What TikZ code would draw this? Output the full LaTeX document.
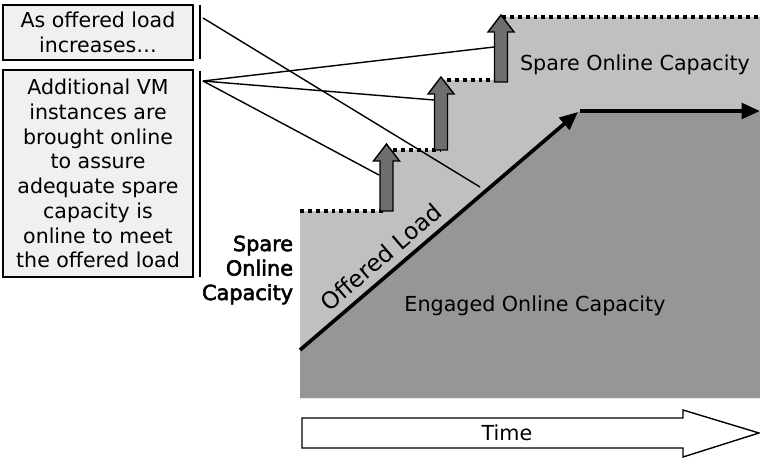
\documentclass[tikz,border=0pt]{standalone}
\usepackage{fontspec}
\setmainfont{DejaVu Sans}
\newfontfamily\lblfont{DejaVu Sans}[FakeBold=2.5]
\usetikzlibrary{arrows.meta}
\definecolor{sparegray}{RGB}{192,192,192}
\definecolor{engagedgray}{RGB}{150,150,150}
\definecolor{arrowgray}{RGB}{110,110,110}
\definecolor{notegray}{RGB}{240,240,240}
\tikzset{
  notebox/.style={draw,fill=notegray,line width=1pt,align=center,inner sep=0pt,
        minimum width=4.75cm,font=\fontsize{14.6}{17.6}\selectfont},
  lbl/.style={font=\fontsize{14.7}{17.4}\selectfont},
  boldlbl/.style={font=\lblfont\fontsize{14.8}{17.4}\selectfont},
  levelline/.style={line width=2.8pt,dash pattern=on 2.8pt off 2.8pt},
  loadline/.style={line width=2.6pt,-{Triangle[length=13pt,width=11pt]}},
  callout/.style={line width=1pt},
  bracketbar/.style={line width=1.3pt},
  liftarrow/.style={draw,fill=arrowgray,line width=1pt,line join=miter},
}

\begin{document}
\begin{tikzpicture}[x=0.025cm,y=-0.025cm]
  \useasboundingbox (0,0) rectangle (760,458);
  % capacity areas
  \fill[sparegray] (300,211) -- (387,211) -- (387,150) -- (441,150) -- (441,80)
        -- (501,80) -- (501,17) -- (760,17) -- (760,398) -- (300,398) -- cycle;
  \fill[engagedgray] (300,350) -- (578,112) -- (760,112) -- (760,398) -- (300,398) -- cycle;
  % spare capacity levels
  \draw[levelline] (300,211) -- (386,211);
  \draw[levelline] (393,150) -- (441,150);
  \draw[levelline] (447,80) -- (495,80);
  \draw[levelline] (502,17) -- (760,17);

  % call-out bars and targets
  \coordinate (growbar top) at (200,5);
  \coordinate (growbar bot) at (200,59);
  \coordinate (addbar top) at (200,71);
  \coordinate (addbar bot) at (200,277);
  \coordinate (growfoot) at (203,18);
  \coordinate (addfoot) at (203,81);
  \coordinate (loadhit) at (480,187);
  \coordinate (lifthit a) at (379,175);
  \coordinate (lifthit b) at (434,100);
  \coordinate (lifthit c) at (494,47);
  \draw[bracketbar] (growbar top) -- (growbar bot);
  \draw[bracketbar] (addbar top) -- (addbar bot);
  \draw[callout] (growfoot) -- (loadhit);
  \foreach \t in {a,b,c}
    \draw[callout] (addfoot) -- (lifthit \t);

  % offered load
  \coordinate (olstart) at (300,350);
  \coordinate (olend) at (578,112);
  \coordinate (flatstart) at (580,111);
  \coordinate (flatend) at (760,111);
  \draw[loadline] (olstart) -- (olend);
  \draw[loadline] (flatstart) -- (flatend);

  % VM instance arrows
  \foreach \cx/\yb/\yt in {386.5/211/144, 441/150/77, 501/82/15}
    \draw[liftarrow] (\cx-6.5,\yb) -- (\cx-6.5,\yt+17) -- (\cx-13,\yt+17) -- (\cx,\yt)
          -- (\cx+13,\yt+17) -- (\cx+6.5,\yt+17) -- (\cx+6.5,\yb) -- cycle;

  % labels
  \node[lbl] (toplbl) at (635,65) {Spare Online Capacity};
  \node[lbl] (engagedlbl) at (535,306) {Engaged Online Capacity};
  \node[lbl,font=\fontsize{16.5}{18}\selectfont,rotate=40.7] (offeredlbl) at (381,257) {Offered Load};
  \node[boldlbl,align=right,anchor=east] (sparelbl) at (298,270) {Spare\\Online\\Capacity};

  % notes
  \node[notebox,minimum height=1.375cm] (grownote) at (98,32.5)
        {As offered load\\increases\ldots};
  \node[notebox,minimum height=5.175cm] (addnote) at (98,173.5)
        {Additional VM\\instances are\\brought online\\to assure\\adequate spare\\capacity is\\online to meet\\the offered load};

  % time axis
  \draw[line width=1pt,fill=white] (302,418) -- (683,418) -- (683,410) -- (759,433)
        -- (683,457) -- (683,448) -- (302,448) -- cycle;
  \node[lbl] (timelbl) at (507,433) {Time};
\end{tikzpicture}
\end{document}
